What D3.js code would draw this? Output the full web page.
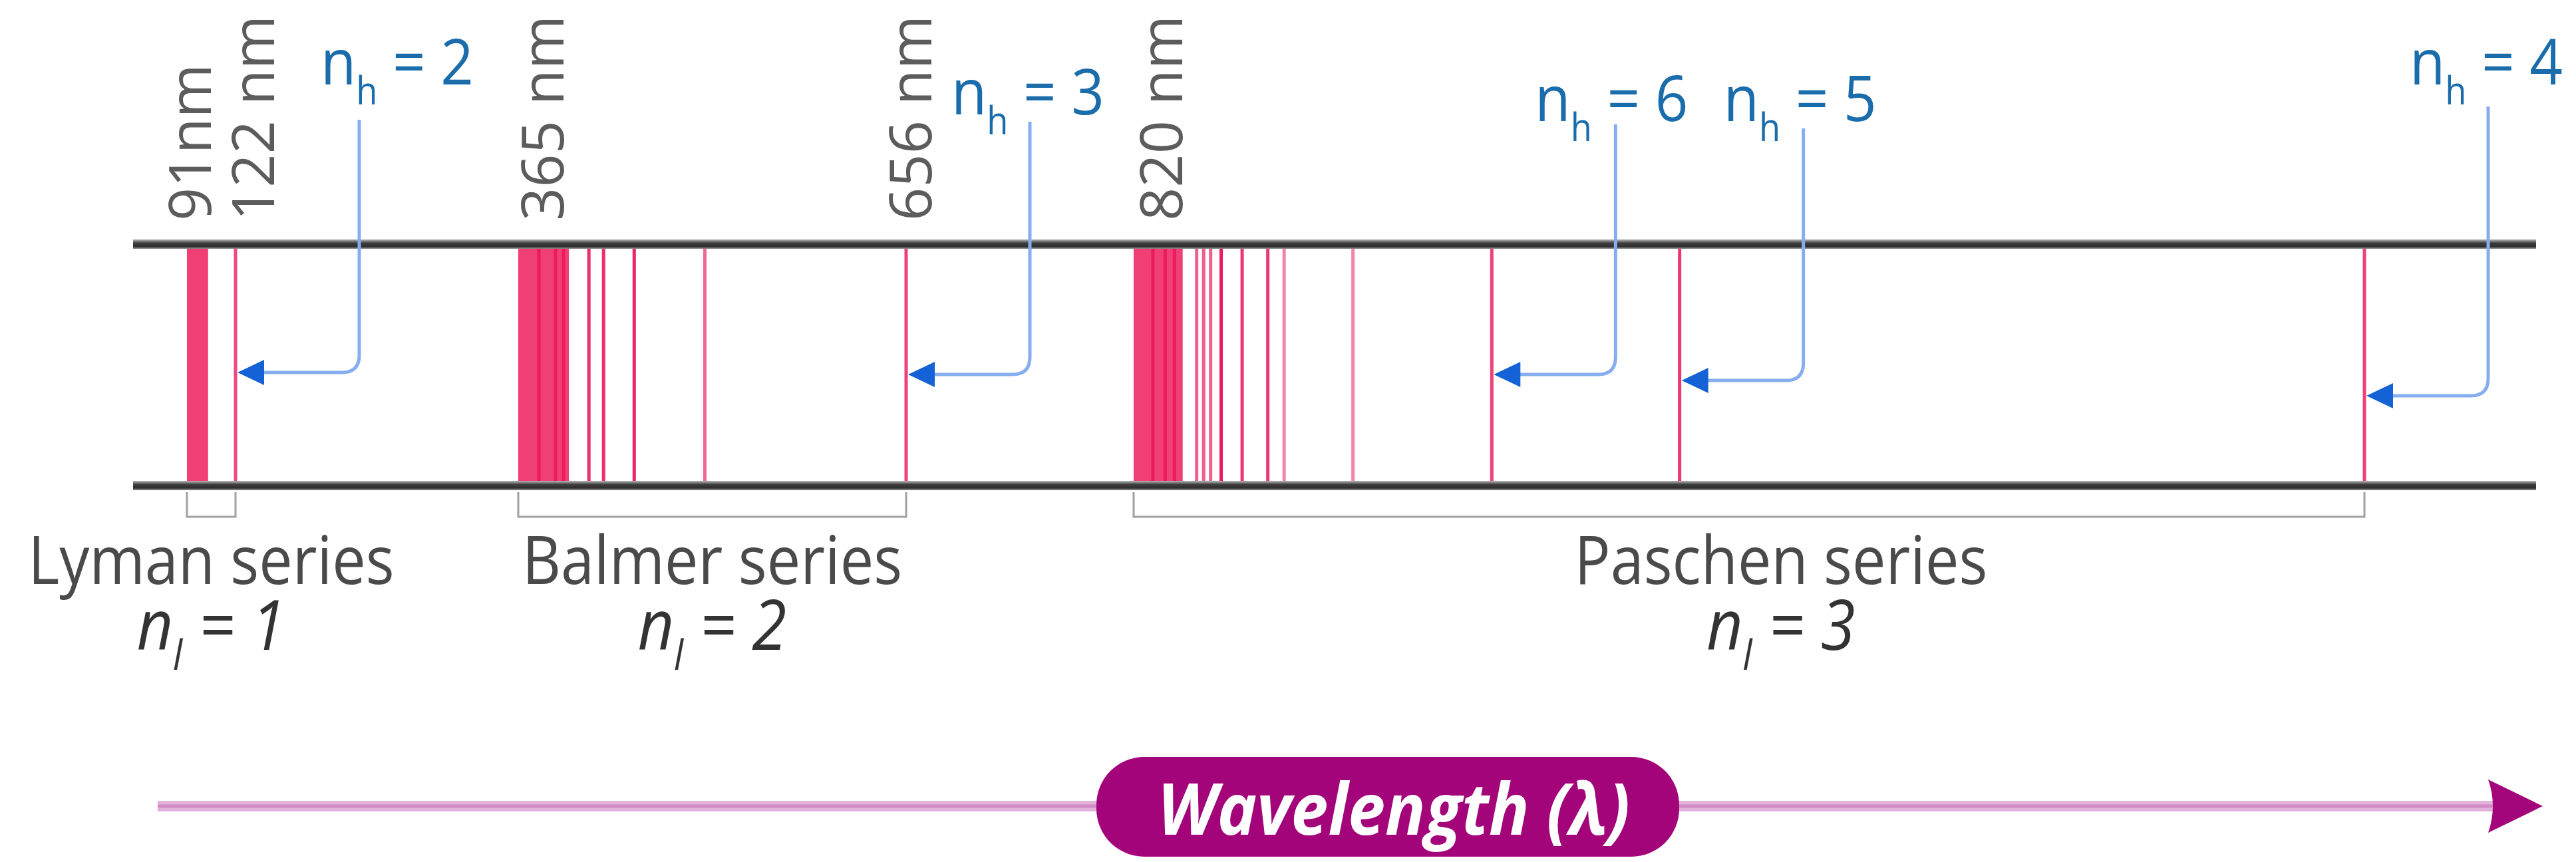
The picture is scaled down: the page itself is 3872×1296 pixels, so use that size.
<!DOCTYPE html>
<html>
<head>
<meta charset="utf-8">
<script src="https://cdn.jsdelivr.net/npm/d3@7"></script>
<style>
  html, body { margin: 0; padding: 0; background: #fff; }
  svg { display: block; }
</style>
</head>
<body>
<div id="chart"></div>
<script>
// values (nm)
var edgeWavelengths = [91, 122, 365, 656, 820];
var edgeLabels = ["91nm", "122 nm", "365 nm", "656 nm", "820 nm"];

var seriesNames = ["Lyman series", "Balmer series", "Paschen series"];
var lowerLevels = [1, 2, 3];
var seriesLimit = [91, 365, 820];
var seriesFirst = [122, 656, 1875];
var seriesBandEnd = [104.5, 403, 862];

var lymanLines = [122];
var lymanIntensity = [0.75];
var balmerLines = [380.5, 393, 399, 418, 429, 452, 505, 656];
var balmerIntensity = [1, 1, 1, 0.9, 0.9, 0.95, 0.6, 0.8];
var paschenLines = [836.5, 847, 855, 874, 880, 886, 895, 913, 935, 949, 1008, 1127, 1288, 1875];
var paschenIntensity = [1, 1, 1, 0.65, 0.65, 0.65, 1, 0.85, 0.85, 0.45, 0.45, 0.8, 0.85, 0.8];

var upperLevels = [2, 3, 6, 5, 4];
var upperTargets = [122, 656, 1127, 1288, 1875];

var width = 3872,
    height = 1296;

var svg = d3.select("#chart")
    .append("svg")
        .attr("width", width)
        .attr("height", height);

// schematic wavelength axis: piecewise linear, calibrated on the labelled lines
var x = d3.scaleLinear()
    .domain([91, 122, 365, 656, 820, 1875])
    .range([281, 354, 779, 1362, 1704, 3554]);

var lineColor = d3.scaleLinear()
    .domain([0, 1])
    .range(["#fcdbe5", "#ec1a5e"]);

var yTop = 367, yBottom = 730;
var font = "'Open Sans', 'Noto Sans', sans-serif";

var defs = svg.append("defs");
var barGrad = defs.append("linearGradient")
    .attr("id", "barGrad")
    .attr("x1", 0).attr("y1", 0).attr("x2", 0).attr("y2", 1);
barGrad.append("stop").attr("offset", "0%").attr("stop-color", "#b8b8b8");
barGrad.append("stop").attr("offset", "40%").attr("stop-color", "#3c3c3c");
barGrad.append("stop").attr("offset", "75%").attr("stop-color", "#2f2f2f");
barGrad.append("stop").attr("offset", "100%").attr("stop-color", "#8c8c8c");

// spectral lines
var allLines = [];
[lymanLines, balmerLines, paschenLines].forEach(function(arr, s) {
    var inten = [lymanIntensity, balmerIntensity, paschenIntensity][s];
    arr.forEach(function(nm, i) {
        allLines.push({nm: nm, intensity: inten[i]});
    });
});

// dense unresolved band at each series limit
svg.selectAll(".band")
    .data(seriesLimit)
    .enter()
    .append("rect")
        .attr("x", function(d) { return x(d); })
        .attr("y", yTop)
        .attr("width", function(d, i) { return x(seriesBandEnd[i]) - x(d); })
        .attr("height", yBottom - yTop)
        .attr("fill", "#ef3f75");

svg.selectAll(".specline")
    .data(allLines)
    .enter()
    .append("line")
        .attr("x1", function(d) { return x(d.nm); })
        .attr("x2", function(d) { return x(d.nm); })
        .attr("y1", yTop)
        .attr("y2", yBottom)
        .attr("stroke", function(d) { return lineColor(d.intensity); })
        .attr("stroke-width", 5);

// the two dark rails
[yTop, yBottom].forEach(function(y) {
    svg.append("rect")
        .attr("x", 200)
        .attr("y", y - 7)
        .attr("width", 3612)
        .attr("height", 14)
        .attr("fill", "url(#barGrad)");
});

// rotated wavelength labels at the top
svg.selectAll(".edge")
    .data(edgeWavelengths)
    .enter()
    .append("text")
        .attr("transform", function(d, i) {
            var dx = [36, 58, 68, 38, 73][i];
            return "translate(" + (x(d) + dx) + ",332) rotate(-90)";
        })
        .attr("font-family", font)
        .attr("font-size", 88)
        .attr("fill", "#5c5c5c")
        .text(function(d, i) { return edgeLabels[i]; });

// series brackets and labels
svg.selectAll(".bracket")
    .data(seriesLimit)
    .enter()
    .append("path")
        .attr("fill", "none")
        .attr("stroke", "#a0a0a0")
        .attr("stroke-width", 3)
        .attr("d", function(d, i) {
            return "M" + x(d) + ",740V777H" + x(seriesFirst[i]) + "V740";
        });

function squeeze(g, cx, factor) {
    // condensed look: compress horizontally around its centre
    var w = g.node().getBBox().width;
    g.attr("transform", "translate(" + (cx - w * factor / 2) + ",0) scale(" + factor + ",1)");
}

seriesNames.forEach(function(name, i) {
    var cx = (x(seriesLimit[i]) + x(seriesFirst[i])) / 2 + [0, 0, 48][i];

    var g1 = svg.append("g");
    g1.append("text")
        .attr("x", 0)
        .attr("y", 878)
        .attr("font-family", font)
        .attr("font-size", 100)
        .attr("fill", "#4a4a4a")
        .text(name);
    squeeze(g1, cx, 0.9);

    var g2 = svg.append("g");
    var t = g2.append("text")
        .attr("x", 0)
        .attr("y", 977)
        .attr("font-family", font)
        .attr("font-style", "italic")
        .attr("font-size", 105)
        .attr("fill", "#333");
    t.append("tspan").text("n");
    t.append("tspan").attr("font-size", 62).attr("dy", 30).text("l");
    t.append("tspan").attr("dy", -30).text(" = " + lowerLevels[i]);
    squeeze(g2, cx, 0.9);
});

// n_h call-outs
var calloutLabelDx = [-58, -118, -121, -120, -118];
var calloutBaseline = [127, 172, 182, 182, 127];
var calloutArrowY = [560, 563, 563, 572, 595];
var calloutTopY = [180, 183, 187, 193, 160];

upperLevels.forEach(function(n, i) {
    var tip = x(upperTargets[i]) + 3;
    var vx = x(upperTargets[i]) + 186;
    var ay = calloutArrowY[i];
    var r = 26;

    svg.append("path")
        .attr("fill", "none")
        .attr("stroke", "#86aeef")
        .attr("stroke-width", 5)
        .attr("d", "M" + vx + "," + calloutTopY[i] + "V" + (ay - r) +
                   "Q" + vx + "," + ay + " " + (vx - r) + "," + ay +
                   "H" + (tip + 30));

    svg.append("path")
        .attr("fill", "#1462d6")
        .attr("d", "M" + tip + "," + ay + "L" + (tip + 40) + "," + (ay - 19) +
                   "L" + (tip + 40) + "," + (ay + 19) + "Z");

    var g = svg.append("g");
    var t = g.append("text")
        .attr("x", 0)
        .attr("y", calloutBaseline[i])
        .attr("font-family", font)
        .attr("font-size", 96)
        .attr("fill", "#1b6cab");
    t.append("tspan").text("n");
    t.append("tspan").attr("font-size", 58).attr("dy", 30).text("h");
    t.append("tspan").attr("dy", -30).text(" = " + n);
    var w = g.node().getBBox().width;
    g.attr("transform", "translate(" + (vx + calloutLabelDx[i]) + ",0) scale(" + (230 / w) + ",1)");
});

// wavelength direction arrow
var arrowY = 1212;
svg.append("line")
    .attr("x1", 237).attr("x2", 3750)
    .attr("y1", arrowY).attr("y2", arrowY)
    .attr("stroke", "#e2b3da")
    .attr("stroke-width", 16);
svg.append("line")
    .attr("x1", 237).attr("x2", 3750)
    .attr("y1", arrowY).attr("y2", arrowY)
    .attr("stroke", "#cf8bc4")
    .attr("stroke-width", 5);
svg.append("path")
    .attr("fill", "#a3067b")
    .attr("d", "M3740," + (arrowY - 40) + "L3822," + arrowY + "L3740," + (arrowY + 40) +
               "Q3754," + arrowY + " 3740," + (arrowY - 40) + "Z");

svg.append("rect")
    .attr("x", 1648)
    .attr("y", 1138)
    .attr("width", 876)
    .attr("height", 150)
    .attr("rx", 72)
    .attr("fill", "#a3047a");

var gw = svg.append("g");
gw.append("text")
    .attr("x", 0)
    .attr("y", 1255)
    .attr("font-family", font)
    .attr("font-style", "italic")
    .attr("font-weight", 700)
    .attr("font-size", 108)
    .attr("fill", "#fff")
    .text("Wavelength (λ)");
var ww = gw.node().getBBox().width;
gw.attr("transform", "translate(" + (2095 - 355) + ",0) scale(" + (710 / ww) + ",1)");
</script>
</body>
</html>
